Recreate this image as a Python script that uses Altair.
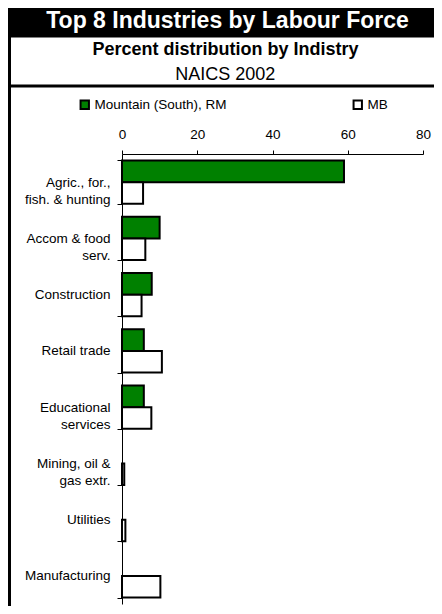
import altair as alt
import pandas as pd

# ---- data ----
categories = [
    "Agric., for.,\nfish. & hunting",
    "Accom & food\nserv.",
    "Construction",
    "Retail trade",
    "Educational\nservices",
    "Mining, oil &\ngas extr.",
    "Utilities",
    "Manufacturing",
]
series = ["Mountain (South), RM", "MB"]
rm_values = [59.0, 10.0, 7.9, 5.8, 5.8, 0.0, 0.0, 0.0]
mb_values = [5.6, 6.2, 5.2, 10.6, 7.8, 0.6, 0.9, 10.2]
x_ticks = [0, 20, 40, 60, 80]

title_text = "Top 8 Industries by Labour Force"
subtitle_text = "Percent distribution by Indistry"
subtitle2_text = "NAICS 2002"

FONT = "Liberation Sans"
GREEN = "#008000"
FS = 13.5

rows = []
for c, a, b in zip(categories, rm_values, mb_values):
    rows.append({"industry": c, "series": series[0], "value": a})
    rows.append({"industry": c, "series": series[1], "value": b})
df = pd.DataFrame(rows)

W, H = 301, 450

bars = (
    alt.Chart(df)
    .transform_filter("datum.value > 0")
    .mark_bar(stroke="black", strokeWidth=2)
    .encode(
        x=alt.X(
            "value:Q",
            scale=alt.Scale(domain=[0, 80], nice=False),
            axis=alt.Axis(
                orient="top", values=x_ticks, title=None, grid=False,
                tickSize=4, labelPadding=9, labelFlush=False,
                domainColor="black", tickColor="black",
                labelColor="black", labelFontSize=FS, labelFont=FONT,
            ),
        ),
        y=alt.Y(
            "industry:N",
            sort=categories,
            scale=alt.Scale(domain=categories, paddingInner=0.23, paddingOuter=0.115),
            axis=alt.Axis(
                title=None, tickBand="extent", tickSize=5, labelPadding=7,
                labelExpr="split(datum.label, '\\n')",
                labelLineHeight=17.5, labelFontSize=FS, labelFont=FONT,
                labelColor="black", domainColor="black", tickColor="black",
                labelLimit=200,
            ),
        ),
        yOffset=alt.YOffset(
            "series:N", sort=series,
            scale=alt.Scale(domain=series, paddingInner=0, paddingOuter=0),
        ),
        fill=alt.Fill(
            "series:N",
            scale=alt.Scale(domain=series, range=[GREEN, "white"]),
            legend=alt.Legend(
                title=None, orient="none", legendX=-44, legendY=-56,
                direction="horizontal", columns=2, columnPadding=122,
                symbolType="square", symbolSize=70,
                symbolStrokeColor="black", symbolStrokeWidth=2,
                labelFontSize=FS, labelFont=FONT, labelColor="black",
                labelOffset=3,
            ),
        ),
    )
)

one = pd.DataFrame({"k": [0]})

title_bar = alt.Chart(one).mark_rect(color="black").encode(
    x=alt.value(-114), x2=alt.value(312), y=alt.value(-146), y2=alt.value(-116.5)
)
left_border = alt.Chart(one).mark_rule(color="black", strokeWidth=3).encode(
    x=alt.value(-112.5), y=alt.value(-146), y2=alt.value(H + 2)
)
sep_line = alt.Chart(one).mark_rule(color="black", strokeWidth=3).encode(
    x=alt.value(-114), x2=alt.value(312), y=alt.value(-68)
)

title_mark = alt.Chart(pd.DataFrame({"t": [title_text]})).mark_text(
    font=FONT, fontSize=23, fontWeight="bold", color="white",
    align="center", baseline="alphabetic",
).encode(text="t:N", x=alt.value(105.5), y=alt.value(-125.7))

sub_mark = alt.Chart(pd.DataFrame({"t": [subtitle_text]})).mark_text(
    font=FONT, fontSize=18, fontWeight="bold", color="black",
    align="center", baseline="alphabetic",
).encode(text="t:N", x=alt.value(103.5), y=alt.value(-99))

sub2_mark = alt.Chart(pd.DataFrame({"t": [subtitle2_text]})).mark_text(
    font=FONT, fontSize=18, color="black",
    align="center", baseline="alphabetic",
).encode(text="t:N", x=alt.value(103.3), y=alt.value(-74))

chart = (
    alt.layer(title_bar, left_border, sep_line, title_mark, sub_mark, sub2_mark, bars)
    .properties(
        width=W, height=H,
        autosize=alt.AutoSizeParams(type="none"),
        padding={"left": 114, "top": 146, "right": 11, "bottom": 2},
        background="white",
    )
    .configure_view(stroke=None)
)

chart.save("out.html", embed_options={"renderer": "svg", "actions": False})
